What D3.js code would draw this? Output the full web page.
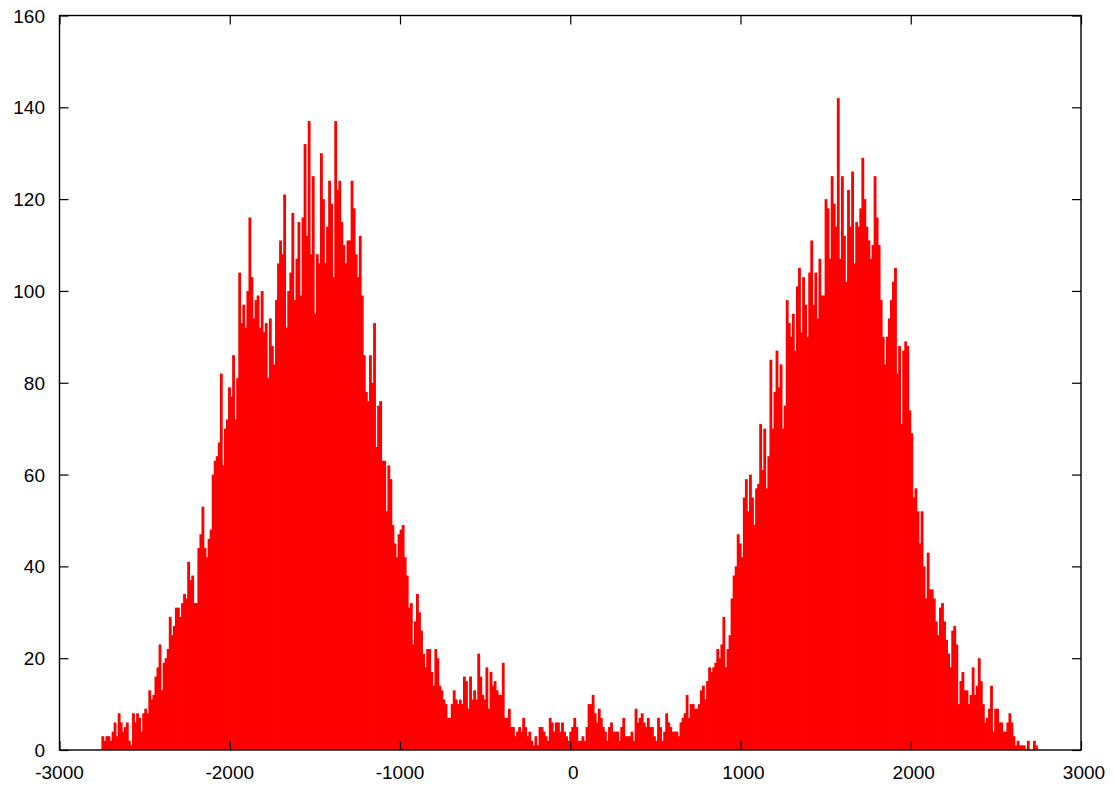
<!DOCTYPE html>
<html>
<head>
<meta charset="utf-8">
<script src="https://cdn.jsdelivr.net/npm/d3@7"></script>
<style>
  html, body { margin: 0; padding: 0; background: #ffffff; }
  svg { display: block; }
  text { font-family: "Liberation Sans", Arial, Helvetica, sans-serif; font-size: 19px; fill: #000; }
</style>
</head>
<body>
<svg id="chart" width="1114" height="785"></svg>
<script>
// ---- data (histogram) ----
const binStart = -2748;   // centre of first bin
const binWidth = 12;
const counts = [
  3,2,3,3,2,4,6,3,8,6,
  4,5,6,2,1,8,6,8,7,4,
  8,9,8,13,11,12,16,18,23,13,
  19,20,22,29,25,27,31,31,29,32,
  34,33,41,37,38,32,32,44,47,53,
  44,42,46,48,60,63,64,67,82,62,
  70,72,79,77,86,72,81,104,93,97,
  92,100,116,103,94,98,99,92,100,91,
  93,81,94,88,84,98,106,111,108,121,
  92,100,104,117,98,107,115,99,116,132,
  112,137,108,125,95,108,106,130,120,106,
  114,124,119,103,137,122,124,115,110,106,
  111,111,124,118,108,103,112,99,86,78,
  76,86,80,93,66,75,76,63,63,52,
  62,59,49,45,42,47,48,49,42,38,
  31,32,23,28,34,30,26,21,18,22,
  22,17,14,22,20,14,13,11,10,7,
  7,10,13,11,10,11,10,16,15,9,
  16,11,13,11,21,16,12,11,18,9,
  17,14,15,13,12,12,19,7,7,9,
  5,5,3,4,5,4,7,5,3,4,
  2,1,3,1,5,5,4,3,2,7,
  6,4,6,6,4,6,4,3,2,4,
  5,7,5,2,2,3,2,5,10,10,
  12,8,6,9,7,5,4,2,5,6,
  4,4,4,2,5,7,3,3,3,4,
  2,9,6,7,8,6,5,7,5,5,
  3,2,7,5,2,4,8,6,5,4,
  4,4,3,6,7,8,12,7,10,10,
  9,9,10,13,14,11,15,18,17,18,
  19,22,20,23,29,18,22,25,33,38,
  40,47,45,42,55,59,52,60,55,49,
  57,58,71,61,70,57,64,85,70,78,
  87,79,84,70,75,98,93,90,95,87,
  101,105,91,103,97,90,104,111,97,104,
  94,107,99,99,120,118,107,125,119,114,
  142,107,125,112,102,122,114,126,106,115,
  114,118,129,120,114,111,107,110,125,116,
  110,98,90,84,90,94,98,102,105,82,
  88,71,87,89,88,74,69,55,57,52,
  45,52,40,33,43,35,35,33,28,25,
  31,32,28,24,21,18,26,27,23,10,
  15,17,13,13,10,12,18,12,14,20,
  15,10,6,7,9,14,4,9,9,6,
  6,4,4,6,8,6,3,1,2,1,
  1,1,0,2,0,0,2,1
];
const xTicks = [-3000, -2000, -1000, 0, 1000, 2000, 3000];
const yTicks = [0, 20, 40, 60, 80, 100, 120, 140, 160];
const xDomain = [-3000, 3000];
const yDomain = [0, 160];

(function () {
  // ---- layout ----
  const mLeft = 59.5, mRight = 1081, mTop = 15.5, mBottom = 750;
  const svg = d3.select("#chart");

  const x = d3.scaleLinear().domain(xDomain).range([mLeft, mRight]);
  const y = d3.scaleLinear().domain(yDomain).range([mBottom, mTop]);

  const bins = counts.map((c, i) => ({ x: binStart + i * binWidth, c }));

  // bars (slightly widened so neighbouring bars merge into a solid area)
  svg.append("g")
    .selectAll("rect")
    .data(bins.filter(d => d.c > 0))
    .join("rect")
    .attr("x", d => x(d.x - binWidth / 2))
    .attr("width", d => x(d.x + binWidth / 2) - x(d.x - binWidth / 2) + 0.8)
    .attr("y", d => y(d.c))
    .attr("height", d => y(0) - y(d.c))
    .attr("fill", "#ff0000");

  // ticks drawn inward on all four sides
  const tickLen = 9;
  const axisG = svg.append("g");

  const bottomAxis = d3.axisBottom(x).tickValues(xTicks).tickSize(-tickLen).tickFormat("");
  const topAxis = d3.axisTop(x).tickValues(xTicks).tickSize(-tickLen).tickFormat("");
  const leftAxis = d3.axisLeft(y).tickValues(yTicks).tickSize(-tickLen).tickFormat("");
  const rightAxis = d3.axisRight(y).tickValues(yTicks).tickSize(-tickLen).tickFormat("");

  function styleAxis(g) {
    g.select(".domain").remove();
    g.selectAll(".tick line").attr("stroke", "#000").attr("stroke-width", 1.2);
  }
  axisG.append("g").attr("transform", `translate(0,${mBottom})`).call(bottomAxis).call(styleAxis);
  axisG.append("g").attr("transform", `translate(0,${mTop})`).call(topAxis).call(styleAxis);
  axisG.append("g").attr("transform", `translate(${mLeft},0)`).call(leftAxis).call(styleAxis);
  axisG.append("g").attr("transform", `translate(${mRight},0)`).call(rightAxis).call(styleAxis);

  // frame
  svg.append("rect")
    .attr("x", mLeft).attr("y", mTop)
    .attr("width", mRight - mLeft).attr("height", mBottom - mTop)
    .attr("fill", "none").attr("stroke", "#000").attr("stroke-width", 1.4);

  // tick labels
  svg.append("g").selectAll("text")
    .data(xTicks)
    .join("text")
    .attr("x", d => x(d) + (d >= 0 ? 3 : 0))
    .attr("y", 779)
    .attr("text-anchor", "middle")
    .text(d => d);

  svg.append("g").selectAll("text")
    .data(yTicks)
    .join("text")
    .attr("x", 45)
    .attr("y", d => y(d) + 7)
    .attr("text-anchor", "end")
    .text(d => d);
})();
</script>
</body>
</html>
